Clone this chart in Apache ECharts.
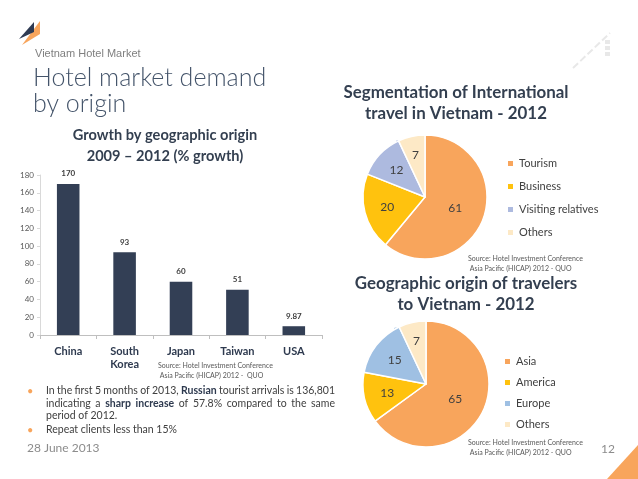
<!DOCTYPE html>
<html><head><meta charset="utf-8">
<script src="https://cdn.jsdelivr.net/npm/echarts@6/dist/echarts.min.js"></script>
<style>html,body{margin:0;padding:0;background:#fff}#c{width:638px;height:479px}</style>
</head><body><div id="c"></div>
<script>
// ---- data ----
const barCategories = ['China', 'South\nKorea', 'Japan', 'Taiwan', 'USA'];
const barValues = [170, 93, 60, 51, 9.87];
const yTicks = {min: 0, max: 180, interval: 20};

const segNames = ['Tourism', 'Business', 'Visiting relatives', 'Others'];
const segValues = [61, 20, 12, 7];

const originNames = ['Asia', 'America', 'Europe', 'Others'];
const originValues = [65, 13, 15, 7];

// ---- style ----
const NAVY = '#333f55', TXT = '#404040', ORANGE = '#f8a55c';
const segColors = ['#f8a55c', '#ffc20e', '#adbadf', '#fde9c6'];
const originColors = ['#f8a55c', '#ffc20e', '#9fc0e3', '#fde9c6'];
const FONT = 'Lato';

const chart = echarts.init(document.getElementById('c'), null, {renderer: 'canvas'});

// justified text helper (word placement measured with canvas)
const mctx = document.createElement('canvas').getContext('2d');
function wordsOf(segs){ const out=[]; segs.forEach(s=>s.t.split(' ').filter(w=>w).forEach(w=>out.push({w, b:s.b}))); return out; }
function measure(w,b,fs){ mctx.font=(b?'bold ':'')+fs+'px '+FONT; return mctx.measureText(w).width; }
const line1 = [{t:'In the first 5 months of 2013,'},{t:'Russian',b:1},{t:'tourist arrivals is 136,801'}];
let BODY = 11;
(function(){
  const ws = wordsOf(line1);
  for (let fs=11; fs>9; fs-=0.25){
    const tot = ws.reduce((a,o)=>a+measure(o.w,o.b,fs),0) + (ws.length-1)*fs*0.2;
    BODY = fs; if (tot <= 289) break;
  }
})();
function textLine(segs, x0, y, width){
  const ws = wordsOf(segs);
  const widths = ws.map(o=>measure(o.w,o.b,BODY));
  const total = widths.reduce((a,b)=>a+b,0);
  const gap = width ? (width-total)/(ws.length-1) : measure(' ',false,BODY);
  let x = x0; const els=[];
  ws.forEach((o,i)=>{ els.push({type:'text', x, y, style:{text:o.w, font:(o.b?'bold ':'')+BODY+'px '+FONT, fill: o.b?'#2e3a4f':TXT, textVerticalAlign:'middle'}}); x += widths[i]+gap; });
  return els;
}

function pieLayout(center, R, values){
  return function(p){
    const r = p.labelRect; const lx=r.x+r.width/2, ly=r.y+r.height/2;
    const dx=lx-center[0], dy=ly-center[1]; const d=Math.hypot(dx,dy)||1;
    const v=values[p.dataIndex]; const f = v>=50?0.52:(v<10?0.7:0.63);
    return {x:center[0]+dx/d*f*R, y:center[1]+dy/d*f*R};
  };
}

const pie1C=[425,197], pie1R=62, pie2C=[426,384], pie2R=63;

const graphics = [
  // logo
  {type:'polygon', shape:{points:[[22,45],[40,21],[40,34]]}, style:{fill:ORANGE}},
  {type:'polygon', shape:{points:[[19,39],[34,22],[34,32]]}, style:{fill:'#2e3a52'}},
  // top-right decoration
  {type:'line', shape:{x1:573,y1:68,x2:610,y2:33}, style:{stroke:'#e8e8e8', lineWidth:2, lineDash:[7,3]}},
  {type:'rect', shape:{x:605,y:40,width:5,height:4}, style:{fill:'#e8e8e8'}},
  {type:'rect', shape:{x:605,y:46,width:5,height:4}, style:{fill:'#e8e8e8'}},
  {type:'rect', shape:{x:605,y:52,width:5,height:4}, style:{fill:'#e8e8e8'}},
  // bottom-right triangle
  {type:'polygon', shape:{points:[[607,479],[638,479],[638,445]]}, style:{fill:ORANGE}},
  // headings
  {type:'text', left:35, top:48, style:{text:'Vietnam Hotel Market', font:'11px "Liberation Sans", Arial', fill:'#7f7f7f'}},
  {type:'text', left:33, top:65, style:{text:'Hotel market demand\nby origin', font:'300 25px '+FONT, fill:'#44546a', lineHeight:26}},
  {type:'text', x:165, y:135, style:{text:'Growth by geographic origin', font:'bold 14.6px '+FONT, fill:'#333f50', textAlign:'center', textVerticalAlign:'middle'}},
  {type:'text', x:165, y:156, style:{text:'2009 \u2013 2012 (% growth)', font:'bold 14.6px '+FONT, fill:'#333f50', textAlign:'center', textVerticalAlign:'middle'}},
  {type:'text', x:456, y:93, style:{text:'Segmentation of International', font:'bold 16.9px '+FONT, fill:'#333f50', textAlign:'center', textVerticalAlign:'middle'}},
  {type:'text', x:456, y:114, style:{text:'travel in Vietnam - 2012', font:'bold 16.9px '+FONT, fill:'#333f50', textAlign:'center', textVerticalAlign:'middle'}},
  {type:'text', x:466, y:284, style:{text:'Geographic origin of travelers', font:'bold 16.9px '+FONT, fill:'#333f50', textAlign:'center', textVerticalAlign:'middle'}},
  {type:'text', x:466, y:305, style:{text:'to Vietnam - 2012', font:'bold 16.9px '+FONT, fill:'#333f50', textAlign:'center', textVerticalAlign:'middle'}},
  // sources
  {type:'text', left:158, top:361, style:{text:'Source: Hotel Investment Conference\n Asia Pacific (HICAP) 2012 -  QUO', font:'7px '+FONT, fill:'#595959', lineHeight:10}},
  {type:'text', left:468, top:254, style:{text:'Source: Hotel Investment Conference\n Asia Pacific (HICAP) 2012 - QUO', font:'7px '+FONT, fill:'#595959', lineHeight:10}},
  {type:'text', left:468, top:438, style:{text:'Source: Hotel Investment Conference\n Asia Pacific (HICAP) 2012 - QUO', font:'7px '+FONT, fill:'#595959', lineHeight:10}},
  // bullets
  {type:'text', x:27, y:391, style:{text:'\u2022', font:'11px '+FONT, fill:ORANGE, textVerticalAlign:'middle'}},
  {type:'text', x:27, y:430, style:{text:'\u2022', font:'11px '+FONT, fill:ORANGE, textVerticalAlign:'middle'}},
  ...textLine(line1, 46, 391, 289),
  ...textLine([{t:'indicating a'},{t:'sharp increase',b:1},{t:'of 57.8% compared to the same'}], 46, 404, 289),
  ...textLine([{t:'period of 2012.'}], 46, 416, 0),
  ...textLine([{t:'Repeat clients less than 15%'}], 46, 430, 0),
  // footer
  {type:'text', left:27, top:442, style:{text:'28 June 2013', font:'12px '+FONT, fill:'#8c8c8c'}},
  {type:'text', left:601, top:443, style:{text:'12', font:'12px '+FONT, fill:'#8c8c8c'}}
];

chart.setOption({
  animation:false,
  textStyle:{fontFamily:FONT},
  graphic: graphics,
  grid:{left:40, top:175, width:282, height:160},
  xAxis:{type:'category', data:barCategories,
    axisLine:{lineStyle:{color:'#bfbfbf'}},
    axisTick:{show:true, length:4, lineStyle:{color:'#bfbfbf'}},
    axisLabel:{fontSize:11, fontWeight:'bold', color:'#2e3a4f', lineHeight:13, margin:10}},
  yAxis:{type:'value', min:yTicks.min, max:yTicks.max, interval:yTicks.interval,
    axisLine:{show:true, lineStyle:{color:'#d9d9d9'}},
    axisTick:{show:true, length:3, lineStyle:{color:'#d9d9d9'}},
    splitLine:{show:false},
    axisLabel:{fontSize:8, color:'#595959', margin:6}},
  legend:[
    {orient:'vertical', left:506, top:158, padding:0, itemWidth:7, itemHeight:7, itemGap:12, icon:'rect',
     data:segNames, textStyle:{fontSize:11, color:TXT, lineHeight:11}, selectedMode:false},
    {orient:'vertical', left:503, top:356, padding:0, itemWidth:7, itemHeight:7, itemGap:10, icon:'rect',
     data:originNames.slice(0,3), textStyle:{fontSize:11, color:TXT, lineHeight:11}, selectedMode:false},
    {orient:'vertical', left:503, top:419, padding:0, itemWidth:7, itemHeight:7, itemGap:10, icon:'rect',
     data:[{name:'Others ', itemStyle:{color:originColors[3]}}], textStyle:{fontSize:11, color:TXT, lineHeight:11}, selectedMode:false}
  ],
  series:[
    {type:'bar', data:barValues, barWidth:'40%', itemStyle:{color:NAVY},
     label:{show:true, position:'top', fontSize:8, fontWeight:'bold', color:TXT, distance:6}},
    {type:'pie', center:pie1C, radius:pie1R, startAngle:90, clockwise:true,
     data:segNames.map((n,i)=>({name:n, value:segValues[i], itemStyle:{color:segColors[i]}})),
     itemStyle:{borderColor:'#fff', borderWidth:1.5},
     label:{show:true, position:'inside', fontSize:12, color:TXT, formatter:'{c}'},
     labelLayout: pieLayout(pie1C, pie1R, segValues),
     emphasis:{disabled:true}},
    {type:'pie', center:pie2C, radius:pie2R, startAngle:90, clockwise:true,
     data:originNames.map((n,i)=>({name: i===3?'Others ':n, value:originValues[i], itemStyle:{color:originColors[i]}})),
     itemStyle:{borderColor:'#fff', borderWidth:1.5},
     label:{show:true, position:'inside', fontSize:12, color:TXT, formatter:'{c}'},
     labelLayout: pieLayout(pie2C, pie2R, originValues),
     emphasis:{disabled:true}}
  ]
});
</script></body></html>
